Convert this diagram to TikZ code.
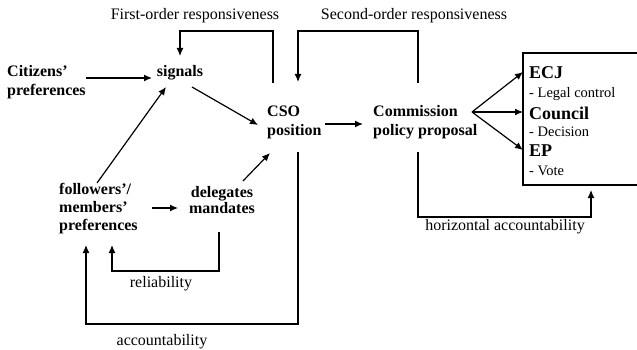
\documentclass[tikz,border=0pt]{standalone}
\usepackage{fontspec}
\setmainfont{Liberation Serif}
\usetikzlibrary{arrows.meta}
\begin{document}
\begin{tikzpicture}[x=1pt,y=-1pt,
  lab/.style={font=\fontsize{16}{19}\selectfont\bfseries, inner sep=0pt, align=left},
  note/.style={font=\fontsize{16}{19}\selectfont, inner sep=0pt},
  boxhead/.style={font=\fontsize{18}{20}\selectfont\bfseries, inner sep=0pt, anchor=west},
  boxsub/.style={font=\fontsize{14.5}{16}\selectfont, inner sep=0pt, anchor=west},
  conn/.style={line width=1.2pt, -{Latex[length=8pt,width=7pt]}},
  wire/.style={line width=1.2pt}]
\useasboundingbox (0,0) rectangle (637,350);

% text nodes
\node[note] (first) at (195,16) {First-order responsiveness};
\node[note] (second) at (414,16) {Second-order responsiveness};
\node[lab, anchor=west] (cit) at (7,82) {Citizens’\\preferences};
\node[lab] (sig) at (180,73) {signals};
\node[lab, anchor=west] (cso) at (267,122) {CSO\\position};
\node[lab, anchor=west] (com) at (373,122) {Commission\\policy proposal};
\node[lab, anchor=west, font=\fontsize{16}{18}\selectfont\bfseries] (fol) at (59,209) {followers’/\\members’\\preferences};
\node[lab, align=center, font=\fontsize{16}{16.5}\selectfont\bfseries] (del) at (222,200) {delegates\\mandates};
\node[note] (rel) at (161,284) {reliability};
\node[note] (acc) at (162,342) {accountability};
\node[note] (hacc) at (505,227) {horizontal accountability};

% institutions box
\draw[wire] (645,53) -| (523,185) -- (645,185);
\node[boxhead] (ecj) at (529,73) {ECJ};
\node[boxsub] (legal) at (529,94) {- Legal control};
\node[boxhead] (council) at (529,113) {Council};
\node[boxsub] (decision) at (529,132) {- Decision};
\node[boxhead] (ep) at (529,151) {EP};
\node[boxsub] (vote) at (529,171) {- Vote};

% connector end points
\coordinate (citOut) at (86,78);
\coordinate (sigIn) at (152,78);
\coordinate (sigOut) at (192,87);
\coordinate (csoIn1) at (258,125);
\coordinate (folOut1) at (97,183);
\coordinate (sigIn2) at (166,87);
\coordinate (delOut) at (243,181);
\coordinate (csoIn2) at (270,153);
\coordinate (folOut2) at (152,208);
\coordinate (delIn) at (178,208);
\coordinate (csoOut) at (325,124);
\coordinate (comIn) at (363,124);
\coordinate (fan) at (472,112);
\coordinate (ecjIn) at (523,72);
\coordinate (councilIn) at (523,112);
\coordinate (epIn) at (523,150);
\coordinate (csoTop) at (273,83);
\coordinate (sigTop) at (180,56);
\coordinate (comTop) at (418,83);
\coordinate (csoTop2) at (298,82);
\coordinate (comBot) at (418,152);
\coordinate (boxBot) at (591,190);
\coordinate (delBot) at (219,232);
\coordinate (folBot1) at (112,245);
\coordinate (csoBot) at (298,152);
\coordinate (folBot2) at (86,245);

\draw[conn] (citOut) -- (sigIn);
\draw[conn] (sigOut) -- (csoIn1);
\draw[conn] (folOut1) -- (sigIn2);
\draw[conn] (delOut) -- (csoIn2);
\draw[conn] (folOut2) -- (delIn);
\draw[conn] (csoOut) -- (comIn);
\draw[conn] (fan) -- (ecjIn);
\draw[conn] (fan) -- (councilIn);
\draw[conn] (fan) -- (epIn);
\draw[conn] (csoTop) |- (sigTop |- 0,31) -- (sigTop);
\draw[conn] (comTop) |- (csoTop2 |- 0,31) -- (csoTop2);
\draw[conn] (comBot) |- (boxBot |- 0,217) -- (boxBot);
\draw[conn] (delBot) |- (folBot1 |- 0,271) -- (folBot1);
\draw[conn] (csoBot) |- (folBot2 |- 0,324) -- (folBot2);
\end{tikzpicture}
\end{document}
